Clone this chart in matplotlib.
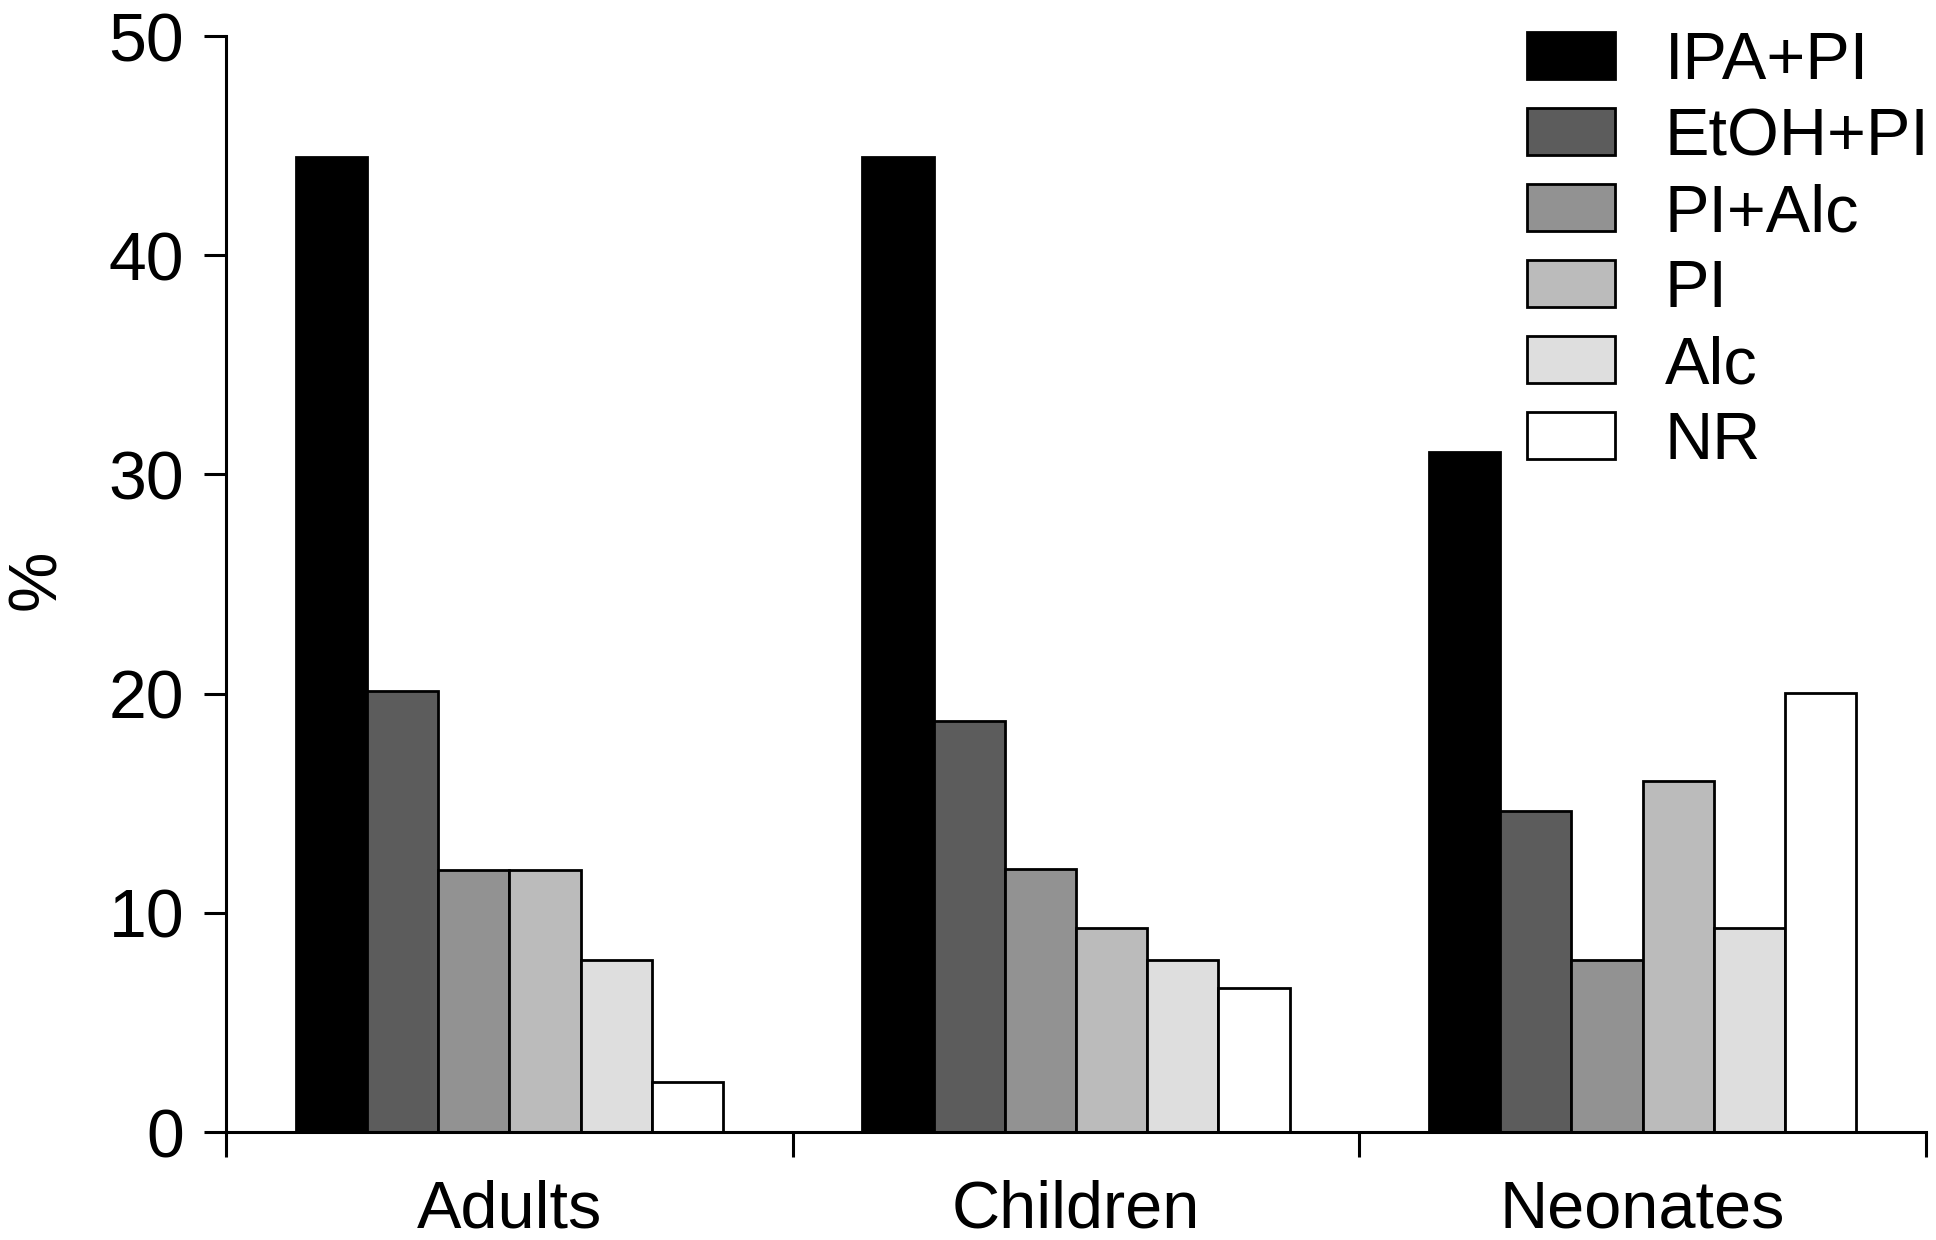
import matplotlib
matplotlib.use("Agg")
import matplotlib.pyplot as plt
import numpy as np
from matplotlib.patches import Patch

categories = ["Adults", "Children", "Neonates"]
series = ["IPA+PI", "EtOH+PI", "PI+Alc", "PI", "Alc", "NR"]
ipa_pi = [44.5, 44.5, 31.0]
etoh_pi = [20.1, 18.75, 14.65]
pi_alc = [11.95, 12.0, 7.85]
pi = [11.95, 9.3, 16.0]
alc = [7.85, 7.85, 9.3]
nr = [2.3, 6.55, 20.05]
values = [ipa_pi, etoh_pi, pi_alc, pi, alc, nr]
colors = ["#000000", "#5c5c5c", "#929292", "#bbbbbb", "#dedede", "#ffffff"]
yticks = [0, 10, 20, 30, 40, 50]

plt.rcParams['font.family'] = ['Liberation Sans', 'DejaVu Sans']

fig = plt.figure(figsize=(19.36, 12.4), dpi=100)
ax = fig.add_axes([226/1936, 1 - 1132/1240, (1926-226)/1936, (1132-36)/1240])

w = 0.1257
x = np.arange(len(categories)) + 0.5
for i, (vals, col) in enumerate(zip(values, colors)):
    offs = (i - 2.5) * w
    ax.bar(x + offs, vals, width=w, color=col, edgecolor="black",
           linewidth=2.0, label=series[i], zorder=2)

ax.set_xlim(0, 3)
ax.set_ylim(0, 50)
ax.set_xticks([0, 1, 2, 3])
ax.set_xticklabels([])
ax.set_xticks(x, minor=True)
ax.set_xticklabels(categories, minor=True)
ax.tick_params(axis='x', which='minor', length=0, pad=34, labelsize=48)
ax.tick_params(axis='x', which='major', length=18, width=2.2, direction='out')
ax.set_yticks(yticks)
ax.tick_params(axis='y', length=16, width=2.2, direction='out', labelsize=49, pad=14)

for s in ['top', 'right']:
    ax.spines[s].set_visible(False)
for s in ['left', 'bottom']:
    ax.spines[s].set_linewidth(2.2)
    ax.spines[s].set_zorder(3)

fig.text(37/1936, 1 - 580/1240, "%", rotation=90, fontsize=49, ha='center', va='center')

handles = [Patch(facecolor=c, edgecolor='black', linewidth=2.0) for c in colors]
ax.legend(handles, series, loc='upper left',
          bbox_to_anchor=(1527/1936, 1 - 31/1240), bbox_transform=fig.transFigure,
          frameon=False, fontsize=48, handlelength=1.32, handleheight=0.7,
          handletextpad=0.75, labelspacing=0.21, borderpad=0, borderaxespad=0)

fig.savefig("out.png", dpi=100)
